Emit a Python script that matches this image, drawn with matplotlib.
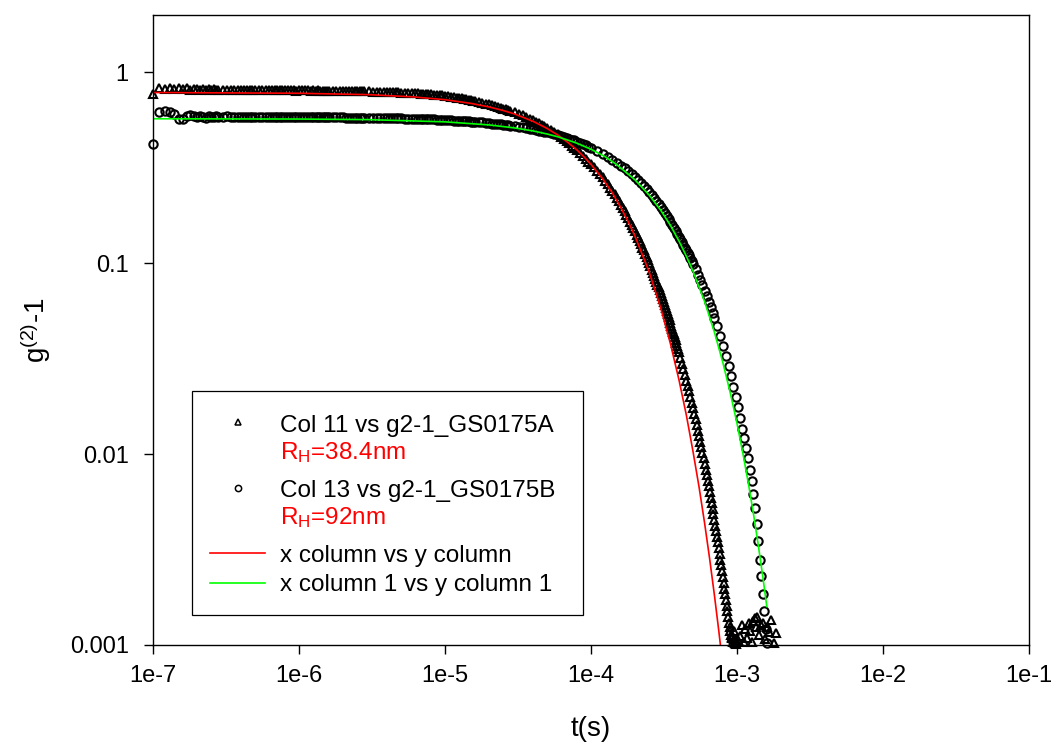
import numpy as np
import matplotlib
matplotlib.use("Agg")
import matplotlib.pyplot as plt

plt.rcParams["font.family"] = ["Liberation Sans", "DejaVu Sans"]
plt.rcParams["mathtext.fontset"] = "custom"
plt.rcParams["mathtext.rm"] = "Liberation Sans"
plt.rcParams["mathtext.it"] = "Liberation Sans:italic"
plt.rcParams["mathtext.default"] = "regular"

# lag times (microseconds) shared by both correlation curves up to ~0.1 ms
t_head_us = [0.10, 0.11, 0.12, 0.13, 0.14, 0.15, 0.16, 0.17, 0.18, 0.19,
             0.20, 0.21, 0.22, 0.23, 0.24, 0.25, 0.26, 0.27, 0.28, 0.30, 0.32, 0.34,
             0.36, 0.38, 0.40, 0.42, 0.44, 0.46, 0.48, 0.50, 0.53, 0.56, 0.59, 0.62,
             0.65, 0.68, 0.71, 0.74, 0.77, 0.80, 0.84, 0.88, 0.92, 0.96,
             1.00, 1.05, 1.10, 1.15, 1.20, 1.25, 1.30, 1.35, 1.40, 1.45, 1.50, 1.55, 1.60,
             1.70, 1.80, 1.90, 2.00, 2.10, 2.20, 2.30, 2.40, 2.50, 2.60, 2.70, 2.80,
             3.00, 3.20, 3.40, 3.60, 3.80, 4.00, 4.20, 4.40, 4.60, 4.80,
             5.00, 5.30, 5.60, 5.90, 6.20, 6.50, 6.80, 7.10, 7.40, 7.70,
             8.00, 8.40, 8.80, 9.20, 9.60,
             10.0, 10.5, 11.0, 11.5, 12.0, 12.5, 13.0, 13.5, 14.0, 14.5, 15.0, 15.5, 16.0,
             17.0, 18.0, 19.0, 20.0, 21.0, 22.0, 23.0, 24.0, 25.0, 26.0, 27.0, 28.0,
             30.0, 32.0, 34.0, 36.0, 38.0, 40.0, 42.0, 44.0, 46.0, 48.0,
             50.0, 53.0, 56.0, 59.0, 62.0, 65.0, 68.0, 71.0, 74.0, 77.0,
             80.0, 84.0, 88.0, 92.0, 96.0]

# Col 11 vs g2-1_GS0175A (triangles)
g_a_head = [0.767, 0.832, 0.818, 0.830, 0.816, 0.828, 0.815, 0.825, 0.814, 0.822,
            0.818, 0.811, 0.817, 0.810, 0.816, 0.810, 0.815, 0.809, 0.814, 0.809, 0.813, 0.808,
            0.812, 0.808, 0.811, 0.807, 0.811, 0.807, 0.810, 0.807, 0.810, 0.806, 0.809, 0.806,
            0.809, 0.806, 0.808, 0.805, 0.808, 0.805, 0.807, 0.805, 0.807, 0.804,
            0.806, 0.807, 0.805, 0.806, 0.804, 0.805, 0.804, 0.805, 0.803, 0.804, 0.803, 0.803, 0.802,
            0.802, 0.801, 0.801, 0.800, 0.800, 0.799, 0.799, 0.798, 0.798, 0.797, 0.797, 0.796,
            0.795, 0.794, 0.793, 0.792, 0.791, 0.790, 0.789, 0.788, 0.787, 0.786,
            0.785, 0.783, 0.781, 0.779, 0.778, 0.776, 0.774, 0.773, 0.771, 0.769,
            0.767, 0.765, 0.763, 0.760, 0.758,
            0.752, 0.749, 0.745, 0.742, 0.738, 0.734, 0.731, 0.727, 0.723, 0.719, 0.715, 0.711, 0.708,
            0.701, 0.694, 0.687, 0.680, 0.673, 0.666, 0.659, 0.653, 0.646, 0.640, 0.634, 0.628,
            0.617, 0.606, 0.595, 0.584, 0.573, 0.563, 0.553, 0.543, 0.533, 0.524,
            0.514, 0.500, 0.487, 0.474, 0.461, 0.449, 0.437, 0.425, 0.413, 0.402,
            0.391, 0.377, 0.364, 0.351, 0.338]
t_a_tail_us = [100, 105, 110, 115, 120, 125, 130, 135, 140, 145, 150, 155, 160, 165, 170,
               175, 180, 185, 190, 195, 200, 205, 210, 215, 220, 225, 230, 235, 240, 245,
               250, 255, 260, 265, 270, 275, 280, 285, 290, 295, 300, 305, 310, 315, 320,
               325, 330, 335, 340, 345, 350, 355, 360, 365, 370, 375, 380, 385, 390, 395,
               400, 410, 420, 430, 440, 450, 460, 470, 480, 490, 500, 510, 520, 530, 540,
               550, 560, 570, 580, 590, 600, 610, 620, 630, 640, 650, 660, 670, 680, 690,
               700, 710, 720, 730, 740, 750, 760, 770, 780, 790, 800, 810, 820, 830, 840,
               850, 860, 870, 880, 890, 900, 910, 920, 930, 940, 950, 960, 970, 980, 990,
               1020, 1050, 1080, 1110, 1140, 1170, 1200, 1230, 1260, 1290, 1320,
               1350, 1380, 1420, 1460, 1500, 1550, 1600, 1660, 1720, 1790, 1860]
g_a_tail = [0.332, 0.319, 0.306, 0.294, 0.282, 0.270, 0.260, 0.249, 0.239, 0.230, 0.220, 0.212, 0.203, 0.195, 0.187,
            0.180, 0.172, 0.165, 0.159, 0.153, 0.147, 0.141, 0.136, 0.131, 0.126, 0.121, 0.117, 0.112, 0.108, 0.104,
            0.100, 0.0963, 0.0927, 0.0892, 0.0861, 0.0831, 0.0802, 0.0774, 0.0748, 0.0721, 0.0696, 0.0672, 0.0649, 0.0626, 0.0604,
            0.0583, 0.0563, 0.0543, 0.0524, 0.0506, 0.0488, 0.0472, 0.0455, 0.0439, 0.0424, 0.0409, 0.0395, 0.0381, 0.0368, 0.0355,
            0.0341, 0.0319, 0.0298, 0.0279, 0.0260, 0.0243, 0.0228, 0.0213, 0.0199, 0.0186, 0.0174, 0.0163, 0.0152, 0.0142, 0.0133,
            0.0124, 0.0116, 0.0109, 0.0102, 0.00951, 0.00888, 0.00830, 0.00776, 0.00726, 0.00678, 0.00634, 0.00592, 0.00554, 0.00517, 0.00484,
            0.00452, 0.00422, 0.00395, 0.00369, 0.00345, 0.00322, 0.00301, 0.00280, 0.00261, 0.00243, 0.00227, 0.00212, 0.00197, 0.00184, 0.00172,
            0.00160, 0.00150, 0.00141, 0.00131, 0.00124, 0.00118, 0.00113, 0.00109, 0.00110, 0.00104, 0.00118, 0.00107, 0.00103, 0.00106, 0.00101,
            0.00106, 0.00112, 0.00127, 0.00104, 0.00121, 0.00109, 0.00130, 0.00118, 0.00104, 0.00133, 0.00139,
            0.00125, 0.00141, 0.00113, 0.00128, 0.00131, 0.00107, 0.00125, 0.00117, 0.00135, 0.00103, 0.00116]

# Col 13 vs g2-1_GS0175B (circles)
g_b_head = [0.420, 0.618, 0.625, 0.620, 0.603, 0.572, 0.568, 0.590, 0.598, 0.590,
            0.582, 0.592, 0.587, 0.580, 0.590, 0.586, 0.582, 0.589, 0.585, 0.583, 0.588, 0.584,
            0.582, 0.587, 0.584, 0.583, 0.586, 0.584, 0.582, 0.586, 0.583, 0.582, 0.585, 0.583,
            0.582, 0.585, 0.583, 0.582, 0.584, 0.583, 0.582, 0.584, 0.582, 0.583,
            0.583, 0.583, 0.583, 0.582, 0.582, 0.582, 0.582, 0.582, 0.582, 0.582, 0.582, 0.582, 0.581,
            0.581, 0.581, 0.581, 0.581, 0.580, 0.580, 0.580, 0.580, 0.580, 0.579, 0.579, 0.579,
            0.578, 0.578, 0.578, 0.577, 0.577, 0.576, 0.576, 0.575, 0.575, 0.575,
            0.574, 0.573, 0.573, 0.572, 0.571, 0.571, 0.570, 0.570, 0.569, 0.568,
            0.568, 0.567, 0.566, 0.565, 0.564,
            0.563, 0.562, 0.561, 0.560, 0.559, 0.558, 0.557, 0.556, 0.555, 0.554, 0.553, 0.552, 0.551,
            0.549, 0.547, 0.545, 0.543, 0.540, 0.539, 0.537, 0.535, 0.533, 0.531, 0.529, 0.527,
            0.523, 0.519, 0.515, 0.511, 0.507, 0.504, 0.500, 0.496, 0.493, 0.489,
            0.485, 0.480, 0.475, 0.470, 0.465, 0.460, 0.455, 0.450, 0.445, 0.440,
            0.434, 0.428, 0.421, 0.415, 0.409]
t_b_tail_us = [100, 110, 120, 130, 140, 150, 160, 170, 180, 190,
               200, 210, 220, 230, 240, 250, 260, 270, 280, 290,
               300, 310, 320, 330, 340, 350, 360, 370, 380, 390,
               400, 410, 420, 430, 440, 450, 460, 470, 480, 490,
               500, 520, 540, 560, 580, 600, 620, 640, 660, 680, 700,
               735, 770, 805, 840, 875, 910, 945, 980, 1015, 1050, 1085, 1120, 1155,
               1190, 1225, 1260, 1295, 1330, 1365, 1400, 1435, 1470, 1505, 1540, 1575, 1610]
g_b_tail = [0.403, 0.389, 0.375, 0.362, 0.349, 0.337, 0.325, 0.314, 0.303, 0.292,
            0.282, 0.272, 0.262, 0.253, 0.245, 0.236, 0.228, 0.220, 0.212, 0.204,
            0.197, 0.190, 0.184, 0.177, 0.171, 0.165, 0.159, 0.154, 0.148, 0.143,
            0.138, 0.134, 0.129, 0.125, 0.121, 0.117, 0.113, 0.110, 0.106, 0.103,
            0.0995, 0.0932, 0.0873, 0.0817, 0.0766, 0.0716, 0.0671, 0.0629, 0.0589, 0.0552, 0.0517,
            0.0470, 0.0418, 0.0370, 0.0328, 0.0290, 0.0256, 0.0226, 0.0200, 0.0176, 0.0154, 0.0136, 0.0122, 0.0108,
            0.0095, 0.0083, 0.0072, 0.0062, 0.0052, 0.0043, 0.0035, 0.0028, 0.0023, 0.00185, 0.00150, 0.00122, 0.00103]

# fitted curves
t_fit_red_us = [0.1, 1, 3, 6, 10, 15, 20, 25, 30, 40, 50, 60, 70, 80, 90, 100,
                120, 140, 160, 180, 200, 250, 300, 350, 400, 450, 500, 550,
                600, 650, 700, 750, 780]
g_fit_red = [0.785, 0.778, 0.765, 0.745, 0.720, 0.689, 0.660, 0.632, 0.606, 0.555,
             0.509, 0.467, 0.428, 0.393, 0.360, 0.330, 0.278, 0.234, 0.196, 0.165,
             0.139, 0.0902, 0.0584, 0.0379, 0.0246, 0.0160, 0.0103, 0.00671,
             0.00435, 0.00282, 0.00183, 0.00119, 0.000917]
t_fit_green_us = [0.1, 1, 3, 10, 20, 30, 40, 50, 60, 80, 100, 125, 150, 200, 250,
                  300, 350, 400, 450, 500, 600, 700, 800, 900, 1000, 1100, 1200,
                  1300, 1400, 1500, 1600]
g_fit_green = [0.572, 0.570, 0.566, 0.551, 0.531, 0.512, 0.494, 0.476, 0.459, 0.426,
               0.396, 0.362, 0.329, 0.274, 0.228, 0.190, 0.158, 0.131, 0.109, 0.0910,
               0.0630, 0.0436, 0.0302, 0.0209, 0.0145, 0.0100, 0.00694, 0.00480,
               0.00332, 0.00230, 0.00159]

x_ticks = [1e-7, 1e-6, 1e-5, 1e-4, 1e-3, 1e-2, 1e-1]
x_tick_labels = ["1e-7", "1e-6", "1e-5", "1e-4", "1e-3", "1e-2", "1e-1"]
y_ticks = [0.001, 0.01, 0.1, 1]
y_tick_labels = ["0.001", "0.01", "0.1", "1"]

us = 1e-6
t_a = np.array(t_head_us + t_a_tail_us) * us
g_a = np.array(g_a_head + g_a_tail)
t_b = np.array(t_head_us + t_b_tail_us) * us
g_b = np.array(g_b_head + g_b_tail)

W, H = 1053, 747
fig = plt.figure(figsize=(W / 100, H / 100), dpi=100)
ax = fig.add_axes([153 / W, 1 - 645 / H, 876 / W, 630 / H])

ax.plot(t_a, g_a, ls="none", marker="^", ms=6.2, mfc="none", mec="black", mew=1.5, clip_on=False)
ax.plot(t_b, g_b, ls="none", marker="o", ms=6.0, mfc="none", mec="black", mew=1.5, clip_on=False)
ax.plot(np.array(t_fit_red_us) * us, g_fit_red, color="#ff0000", lw=1.2)
ax.plot(np.array(t_fit_green_us) * us, g_fit_green, color="#00ff00", lw=1.2)

ax.set_xscale("log")
ax.set_yscale("log")
ax.set_xlim(1e-7, 1e-1)
ax.set_ylim(0.001, 2)
ax.set_xticks(x_ticks)
ax.set_xticklabels(x_tick_labels)
ax.set_yticks(y_ticks)
ax.set_yticklabels(y_tick_labels)
ax.minorticks_off()
ax.tick_params(direction="out", length=6.5, width=1.0, labelsize=17, top=False, right=False)
ax.tick_params(axis="x", pad=8)
ax.tick_params(axis="y", pad=11)
for sp in ax.spines.values():
    sp.set_linewidth(1.0)

ax.set_xlabel("t(s)", fontsize=20)
ax.set_ylabel("g$^{(2)}$-1", fontsize=20)
ax.xaxis.set_label_coords(0.5, -0.113)
ax.yaxis.set_label_coords(-0.114, 0.5)

# legend box drawn by hand to match the layout
def ax_x(px):
    return (px - 153) / 876


def ax_y(py):
    return (645 - py) / 630


box = plt.Rectangle((ax_x(191.7), ax_y(615)), ax_x(583.3) - ax_x(191.7), ax_y(391) - ax_y(615),
                    transform=ax.transAxes, fill=False, edgecolor="black", lw=0.9)
ax.add_patch(box)
tx = ax_x(280)
fs = 17.5
ax.plot([ax_x(238)], [ax_y(422)], transform=ax.transAxes, marker="^", ms=4.5, mfc="none", mec="black", mew=1.1)
ax.text(tx, ax_y(432), "Col 11 vs g2-1_GS0175A", transform=ax.transAxes, fontsize=fs, va="baseline")
ax.text(tx, ax_y(459.5), "R$_{H}$=38.4nm", transform=ax.transAxes, fontsize=fs, va="baseline", color="#ff0000")
ax.plot([ax_x(238)], [ax_y(488)], transform=ax.transAxes, marker="o", ms=4.5, mfc="none", mec="black", mew=1.1)
ax.text(tx, ax_y(497), "Col 13 vs g2-1_GS0175B", transform=ax.transAxes, fontsize=fs, va="baseline")
ax.text(tx, ax_y(524.5), "R$_{H}$=92nm", transform=ax.transAxes, fontsize=fs, va="baseline", color="#ff0000")
ax.plot([ax_x(210), ax_x(265)], [ax_y(552.7)] * 2, transform=ax.transAxes, color="#ff0000", lw=1.2)
ax.text(tx, ax_y(562), "x column vs y column", transform=ax.transAxes, fontsize=fs, va="baseline")
ax.plot([ax_x(210), ax_x(265)], [ax_y(582.7)] * 2, transform=ax.transAxes, color="#00ff00", lw=1.2)
ax.text(tx, ax_y(591), "x column 1 vs y column 1", transform=ax.transAxes, fontsize=fs, va="baseline")

fig.savefig("out.png", dpi=100)
plt.close(fig)
